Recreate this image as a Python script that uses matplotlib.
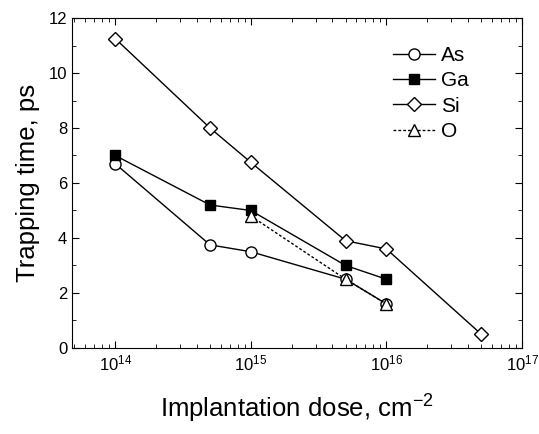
import matplotlib
matplotlib.use('Agg')
import matplotlib.pyplot as plt
from matplotlib.ticker import LogLocator, MultipleLocator, NullFormatter

plt.rcParams['font.family'] = ['Liberation Sans', 'DejaVu Sans']
plt.rcParams['mathtext.fontset'] = 'custom'
plt.rcParams['mathtext.rm'] = 'Liberation Sans'

as_dose = [1e14, 5e14, 1e15, 5e15, 1e16]
as_time = [6.7, 3.75, 3.5, 2.5, 1.6]
ga_dose = [1e14, 5e14, 1e15, 5e15, 1e16]
ga_time = [7.0, 5.2, 5.0, 3.0, 2.5]
si_dose = [1e14, 5e14, 1e15, 5e15, 1e16, 5e16]
si_time = [11.25, 8.0, 6.75, 3.9, 3.6, 0.5]
o_dose = [1e15, 5e15, 1e16]
o_time = [4.8, 2.5, 1.6]

fig = plt.figure(figsize=(5.39, 4.34), dpi=100)
ax = fig.add_axes([0.1336, 0.1982, 0.835, 0.7603])

ax.plot(as_dose, as_time, '-o', color='black', mfc='white', ms=8, lw=1, label='As')
ax.plot(ga_dose, ga_time, '-s', color='black', mfc='black', ms=7.5, lw=1, label='Ga')
ax.plot(si_dose, si_time, '-D', color='black', mfc='white', ms=7.5, lw=1, label='Si')
ax.plot(o_dose, o_time, marker='^', ls=(0, (2, 1.5)), color='black', mfc='white', ms=9, lw=1, label='O')

ax.set_xscale('log')
ax.set_xlim(4.8e13, 1e17)
ax.set_ylim(0, 12)
ax.xaxis.set_major_locator(LogLocator(base=10, numticks=10))
ax.xaxis.set_minor_locator(LogLocator(base=10, subs=range(2, 10), numticks=20))
ax.xaxis.set_minor_formatter(NullFormatter())
ax.yaxis.set_major_locator(MultipleLocator(2))
ax.yaxis.set_minor_locator(MultipleLocator(1))
ax.tick_params(which='both', direction='in', top=True, right=True, labelsize=12)
ax.tick_params(which='major', length=5)
ax.tick_params(which='minor', length=3)
ax.tick_params(axis='x', pad=4)

ax.set_xlabel('Implantation dose, cm$^{\\mathregular{-2}}$', fontsize=18.5, labelpad=13)
ax.set_ylabel('Trapping time, ps', fontsize=18.5, labelpad=6)

ax.legend(loc='upper right', bbox_to_anchor=(0.9, 0.94), frameon=False, fontsize=15,
          handlelength=2.0, handletextpad=0.3, labelspacing=0.3, borderaxespad=0)

fig.savefig('out.png', dpi=100)
